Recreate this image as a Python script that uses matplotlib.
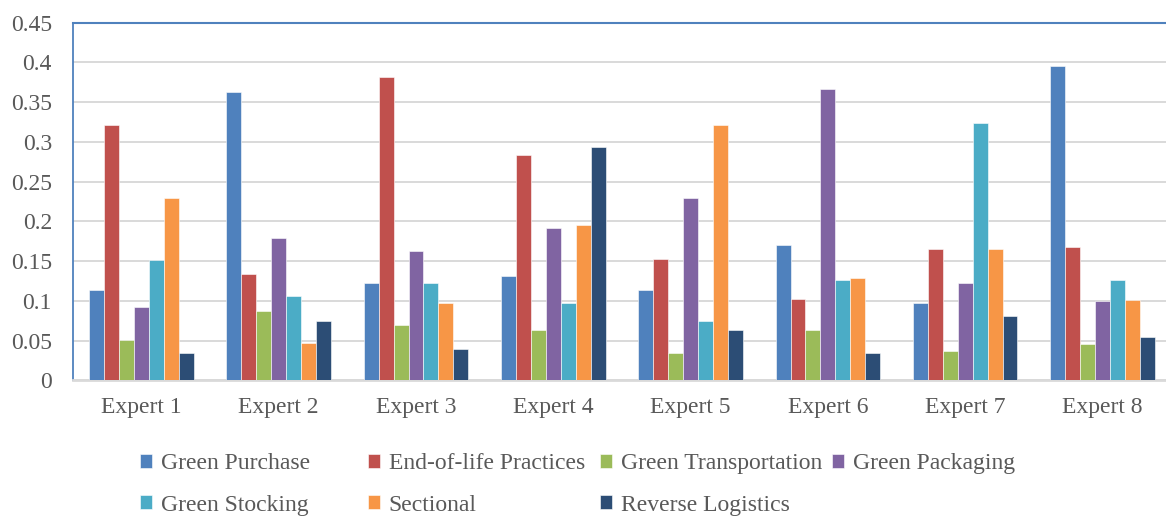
import numpy as np
import matplotlib
matplotlib.use("Agg")
import matplotlib.pyplot as plt

plt.rcParams["font.family"] = ["Liberation Serif", "DejaVu Serif"]

experts = ["Expert 1", "Expert 2", "Expert 3", "Expert 4",
           "Expert 5", "Expert 6", "Expert 7", "Expert 8"]

green_purchase = [0.114, 0.363, 0.122, 0.131, 0.114, 0.171, 0.098, 0.396]
end_of_life = [0.321, 0.134, 0.382, 0.284, 0.153, 0.102, 0.165, 0.168]
green_transport = [0.051, 0.088, 0.070, 0.064, 0.035, 0.063, 0.037, 0.046]
green_packaging = [0.092, 0.179, 0.163, 0.192, 0.230, 0.366, 0.122, 0.100]
green_stocking = [0.152, 0.106, 0.122, 0.097, 0.075, 0.127, 0.324, 0.126]
sectional = [0.230, 0.047, 0.097, 0.195, 0.321, 0.129, 0.165, 0.101]
reverse_logistics = [0.035, 0.075, 0.039, 0.294, 0.064, 0.035, 0.081, 0.055]

series = [
    ("Green Purchase", green_purchase, "#4F81BD"),
    ("End-of-life Practices", end_of_life, "#C0504D"),
    ("Green Transportation", green_transport, "#9BBB59"),
    ("Green Packaging", green_packaging, "#8064A2"),
    ("Green Stocking", green_stocking, "#4BACC6"),
    ("Sectional", sectional, "#F79646"),
    ("Reverse Logistics", reverse_logistics, "#2C4D75"),
]

text_col = "#595959"

fig = plt.figure(figsize=(11.66, 5.16), dpi=100)
ax = fig.add_axes([0.0624, 0.2626, 0.942, 0.6934])

x = np.arange(len(experts))
w = 0.1088
handles = []
for j, (name, vals, col) in enumerate(series):
    b = ax.bar(x + (j - 3) * w, vals, w, color=col, edgecolor="white",
               linewidth=0.4, label=name, zorder=3)
    handles.append(b)

ax.set_xlim(-0.5, 7.5)
ax.set_ylim(0, 0.45)
ax.set_yticks(np.arange(0, 0.451, 0.05))
ax.set_yticklabels(["0", "0.05", "0.1", "0.15", "0.2", "0.25", "0.3",
                    "0.35", "0.4", "0.45"])
ax.set_xticks(x)
ax.set_xticklabels(experts)
ax.tick_params(axis="both", length=0, labelsize=17, colors=text_col)
ax.tick_params(axis="y", pad=15)
ax.tick_params(axis="x", pad=12)

ax.grid(axis="y", color="#D9D9D9", linewidth=1.4, zorder=0)
ax.spines["right"].set_visible(False)
ax.spines["left"].set_color("#4F81BD")
ax.spines["top"].set_color("#4F81BD")
ax.spines["left"].set_linewidth(1.3)
ax.spines["top"].set_linewidth(1.5)
ax.spines["bottom"].set_color("#D9D9D9")
ax.spines["bottom"].set_linewidth(2)

# legend laid out as fixed-width columns, like the original
col_x = [140, 368, 600, 832]
columns = [[0, 4], [1, 5], [2, 6], [3]]
for cx, idx in zip(col_x, columns):
    fig.legend([handles[i] for i in idx], [series[i][0] for i in idx],
               loc="upper left", bbox_to_anchor=((cx - 9) / 1166, 1 - 444 / 516),
               frameon=False, fontsize=17, labelcolor=text_col,
               handlelength=0.5, handleheight=0.55, handletextpad=0.36,
               labelspacing=0.85, borderaxespad=0, borderpad=0.4)

fig.savefig("out.png", dpi=100)
